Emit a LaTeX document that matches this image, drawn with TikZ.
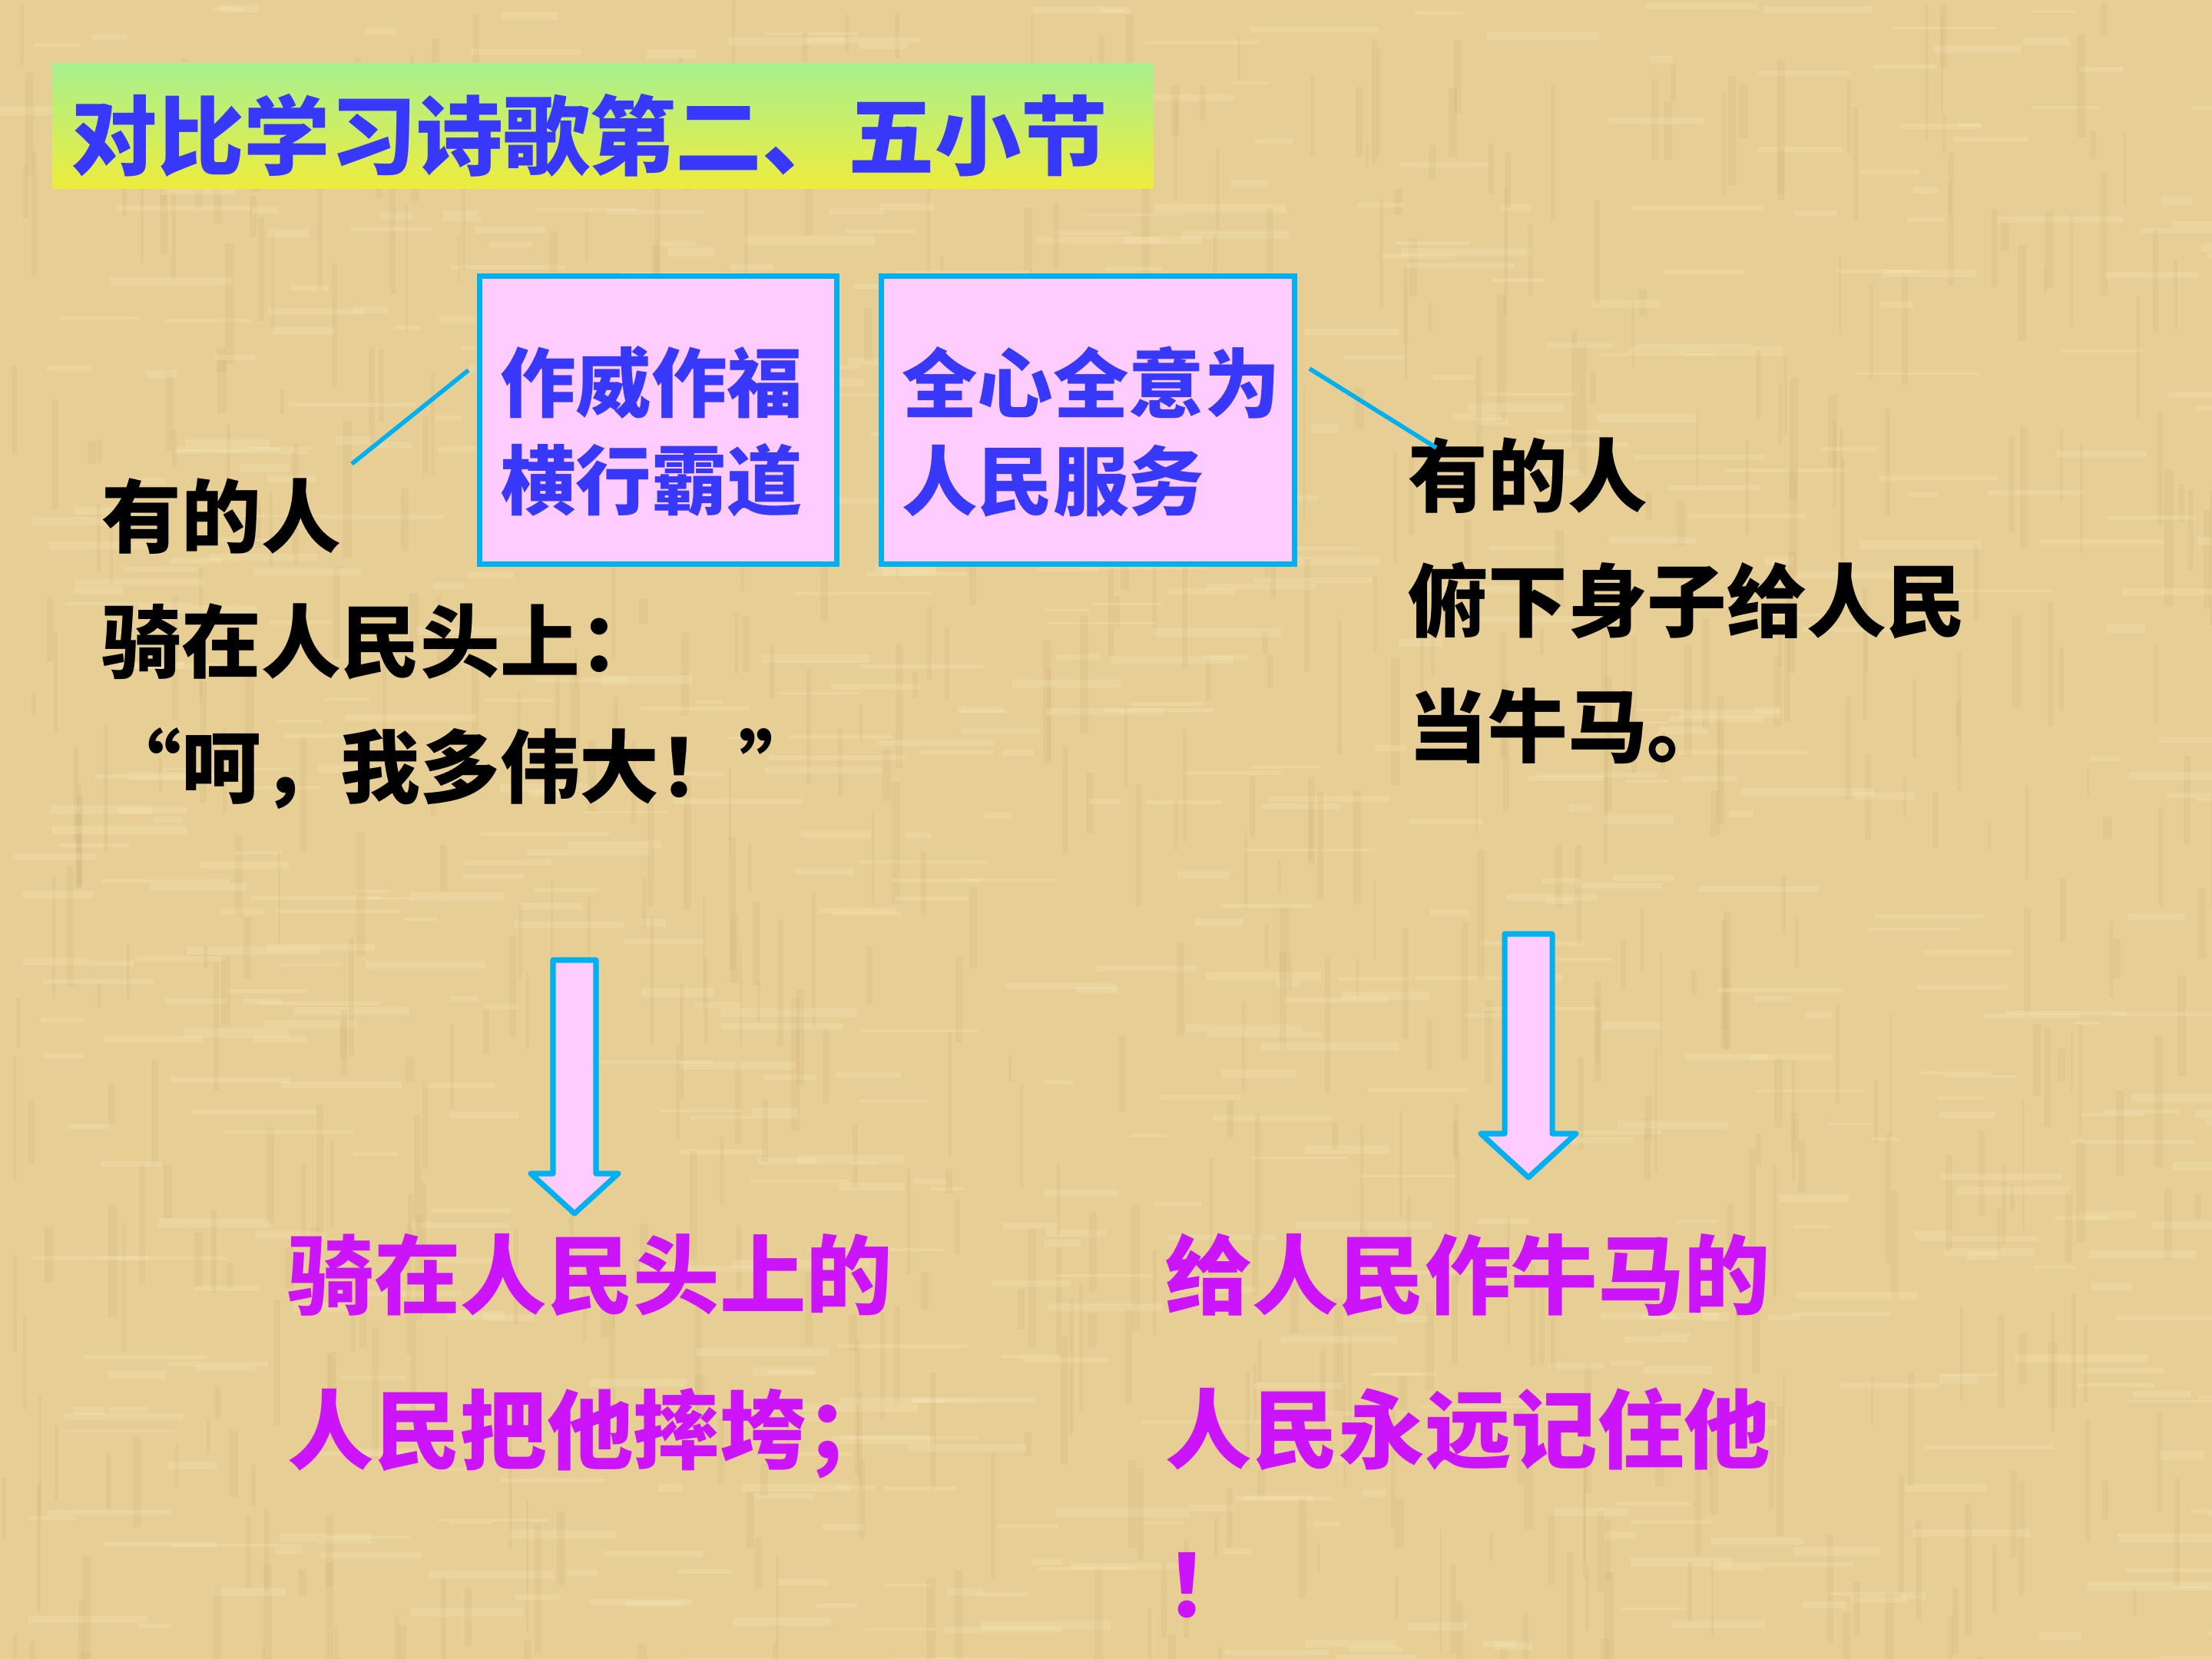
\documentclass[tikz,border=0pt]{standalone}
\usepackage{fontspec}
\setmainfont{Noto Sans CJK SC}
\usetikzlibrary{calc}

\definecolor{paper}{RGB}{230,206,148}
\definecolor{weavedark}{RGB}{200,170,108}
\definecolor{weavelight}{RGB}{248,232,184}
\definecolor{bargreen}{RGB}{168,240,142}
\definecolor{baryellow}{RGB}{238,236,60}
\definecolor{titleblue}{RGB}{56,56,250}
\definecolor{cyanline}{RGB}{0,176,240}
\definecolor{boxpink}{RGB}{255,204,255}
\definecolor{verse}{RGB}{204,20,250}

\newcommand{\titlefont}{\fontsize{32}{38}\selectfont\bfseries}
\newcommand{\boxfont}{\fontsize{28}{36.2}\selectfont\bfseries}
\newcommand{\poemfont}{\fontsize{29.5}{46.4}\selectfont\bfseries}
\newcommand{\resultfont}{\fontsize{32}{57.2}\selectfont\bfseries}

\begin{document}
\begin{tikzpicture}[
  bar/.style={
    top color=bargreen,
    bottom color=baryellow,
    inner sep=0pt
  },
  box/.style={
    draw=cyanline,
    line width=2pt,
    fill=boxpink,
    inner sep=0pt
  },
  boxtext/.style={
    align=left,
    inner sep=0pt,
    text=titleblue,
    font=\boxfont
  },
  link/.style={
    draw=cyanline,
    line width=1.6pt
  },
  poem/.style={
    anchor=base west,
    align=left,
    inner sep=0pt,
    font=\poemfont
  },
  result/.style={
    anchor=base west,
    align=left,
    inner sep=0pt,
    text=verse,
    font=\resultfont
  },
  blockarrow/.style={
    draw=cyanline,
    line width=2pt,
    fill=boxpink,
    line join=round
  }
  ]

  \useasboundingbox (0,0) rectangle (28.8,-21.6);

  % paper background
  \fill[paper] (0,0) rectangle (28.8,-21.6);
  \begin{scope}
    \clip (0,0) rectangle (28.8,-21.6);
    \pgfmathsetseed{11}
    \foreach \i in {1,...,700}{
      \pgfmathsetmacro{\px}{rnd*28.8}
      \pgfmathsetmacro{\py}{-rnd*22}
      \pgfmathsetmacro{\pl}{0.3+rnd*1.5}
      \pgfmathsetmacro{\pw}{0.03+rnd*0.09}
      \fill[weavedark, opacity=0.15] (\px,\py) rectangle ++(\pw,-\pl);
      \pgfmathsetmacro{\qx}{rnd*29}
      \pgfmathsetmacro{\qy}{-rnd*21.6}
      \pgfmathsetmacro{\ql}{0.3+rnd*1.5}
      \pgfmathsetmacro{\qw}{0.03+rnd*0.09}
      \fill[weavelight, opacity=0.3] (\qx,\qy) rectangle ++(\ql,-\qw);
    }
  \end{scope}

  % title
  \node [bar, minimum width=14.34cm, minimum height=1.63cm] (titlebar) at
  (7.85,-1.645) {};
  \node [anchor=base west, inner sep=0pt, text=titleblue, font=\titlefont]
  (title) at (0.92,-2.195) {对比学习诗歌第二、五小节};

  % the two boxes
  \node [box, minimum width=4.65cm, minimum height=3.75cm] (vice) at
  (8.57,-5.47) {};
  \node [box, minimum width=5.38cm, minimum height=3.75cm] (serve) at
  (14.165,-5.47) {};
  \node [boxtext, xshift=-0.09cm, yshift=-0.15cm] (vicetext) at (vice)
  {作威作福\\横行霸道};
  \node [boxtext, xshift=0.04cm, yshift=-0.15cm] (servetext) at (serve)
  {全心全意为\\人民服务};

  % the two poems (base = last line)
  \node [poem] (leftpoem) at (1.32,-10.375)
  {有的人\\骑在人民头上：\\“呵，我多伟大！”};
  \node [poem] (rightpoem) at (18.33,-9.845)
  {有的人\\俯下身子给人民\\当牛马。};

  \coordinate (viceend) at (4.58,-6.04);
  \coordinate (serveend) at (18.70,-5.83);
  \draw [link] ($(vice.west)+(-0.11,0.65)$) -- (viceend);
  \draw [link] ($(serve.east)+(0.16,0.67)$) -- (serveend);

  % block arrows
  \coordinate (leftarr) at (7.48,-12.50);
  \coordinate (rightarr) at (19.90,-12.16);
  \draw [blockarrow] (leftarr) ++(-0.28,0) -- ++(0,-2.78) -- ++(-0.29,0)
  -- ++(0.57,-0.52) -- ++(0.57,0.52) -- ++(-0.29,0) -- ++(0,2.78) -- cycle;
  \draw [blockarrow] (rightarr) ++(-0.31,0) -- ++(0,-2.60) -- ++(-0.31,0)
  -- ++(0.62,-0.57) -- ++(0.62,0.57) -- ++(-0.31,0) -- ++(0,2.60) -- cycle;

  % results
  \node [result] (leftresult) at (3.74,-19.04)
  {骑在人民头上的\\人民把他摔垮；};
  \node [result] (rightresult) at (15.17,-21.05)
  {给人民作牛马的\\人民永远记住他\\！};

\end{tikzpicture}
\end{document}
